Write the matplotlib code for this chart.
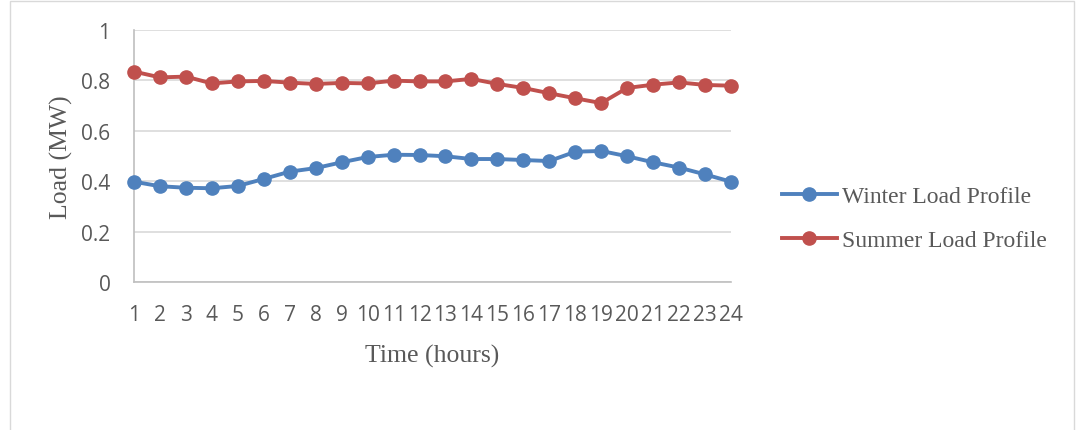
import matplotlib
matplotlib.use("Agg")
import matplotlib.pyplot as plt
from matplotlib.patches import Rectangle

hours = list(range(1, 25))
winter = [0.398, 0.380, 0.374, 0.372, 0.381, 0.409, 0.438, 0.452, 0.475, 0.496, 0.505, 0.504,
          0.499, 0.488, 0.488, 0.484, 0.480, 0.517, 0.520, 0.499, 0.475, 0.454, 0.427, 0.398]
summer = [0.835, 0.812, 0.815, 0.788, 0.796, 0.798, 0.791, 0.786, 0.790, 0.788, 0.799, 0.796,
          0.796, 0.806, 0.786, 0.770, 0.749, 0.729, 0.710, 0.770, 0.783, 0.792, 0.782, 0.779]
y_ticks = [0, 0.2, 0.4, 0.6, 0.8, 1]
y_labels = ["0", "0.2", "0.4", "0.6", "0.8", "1"]

W, H = 1077, 431
fig = plt.figure(figsize=(W / 100, H / 100), dpi=100)
ax = fig.add_axes([134 / W, 1 - 283 / H, (731 - 134) / W, 252 / H])

# outer chart frame
fig.patches.append(Rectangle((10 / W, -0.01), (1074 - 10) / W, 1 - 2 / H + 0.01,
                             transform=fig.transFigure, fill=False,
                             edgecolor="#d9d9d9", linewidth=1))

ax.plot(hours, winter, color="#4f81bd", linewidth=2.8, marker="o", markersize=9.5,
        label="Winter Load Profile", clip_on=False, zorder=3)
ax.plot(hours, summer, color="#c0504d", linewidth=2.8, marker="o", markersize=9.5,
        label="Summer Load Profile", clip_on=False, zorder=3)

ax.set_xlim(1, 24)
ax.set_ylim(0, 1)
ax.set_xticks(hours)
ax.set_xticklabels([str(h) for h in hours], fontfamily="Open Sans", fontsize=15, color="#595959")
ax.set_yticks(y_ticks)
ax.set_yticklabels(y_labels, fontfamily="Open Sans", fontsize=15, color="#595959")
ax.tick_params(length=0)
ax.tick_params(axis="y", pad=17)
ax.tick_params(axis="x", pad=15.5)

ax.grid(axis="y", color="#d9d9d9", linewidth=1.2)
ax.set_axisbelow(True)
for s in ["top", "right"]:
    ax.spines[s].set_visible(False)
for s in ["left", "bottom"]:
    ax.spines[s].set_color("#bfbfbf")
    ax.spines[s].set_linewidth(1.2)

ax.set_xlabel("Time (hours)", fontfamily="Liberation Serif", fontsize=18.5, color="#595959", labelpad=14)
ax.set_ylabel("Load (MW)", fontfamily="Liberation Serif", fontsize=18.5, color="#595959", labelpad=6)

leg = ax.legend(loc="center left", bbox_to_anchor=(770 / W, 1 - 219.5 / H), bbox_transform=fig.transFigure,
                frameon=False, prop={"family": "Liberation Serif", "size": 17}, borderpad=0,
                handlelength=2.33, handletextpad=0.2, labelspacing=0.96)
for t in leg.get_texts():
    t.set_color("#595959")

fig.savefig("out.png", dpi=100)
